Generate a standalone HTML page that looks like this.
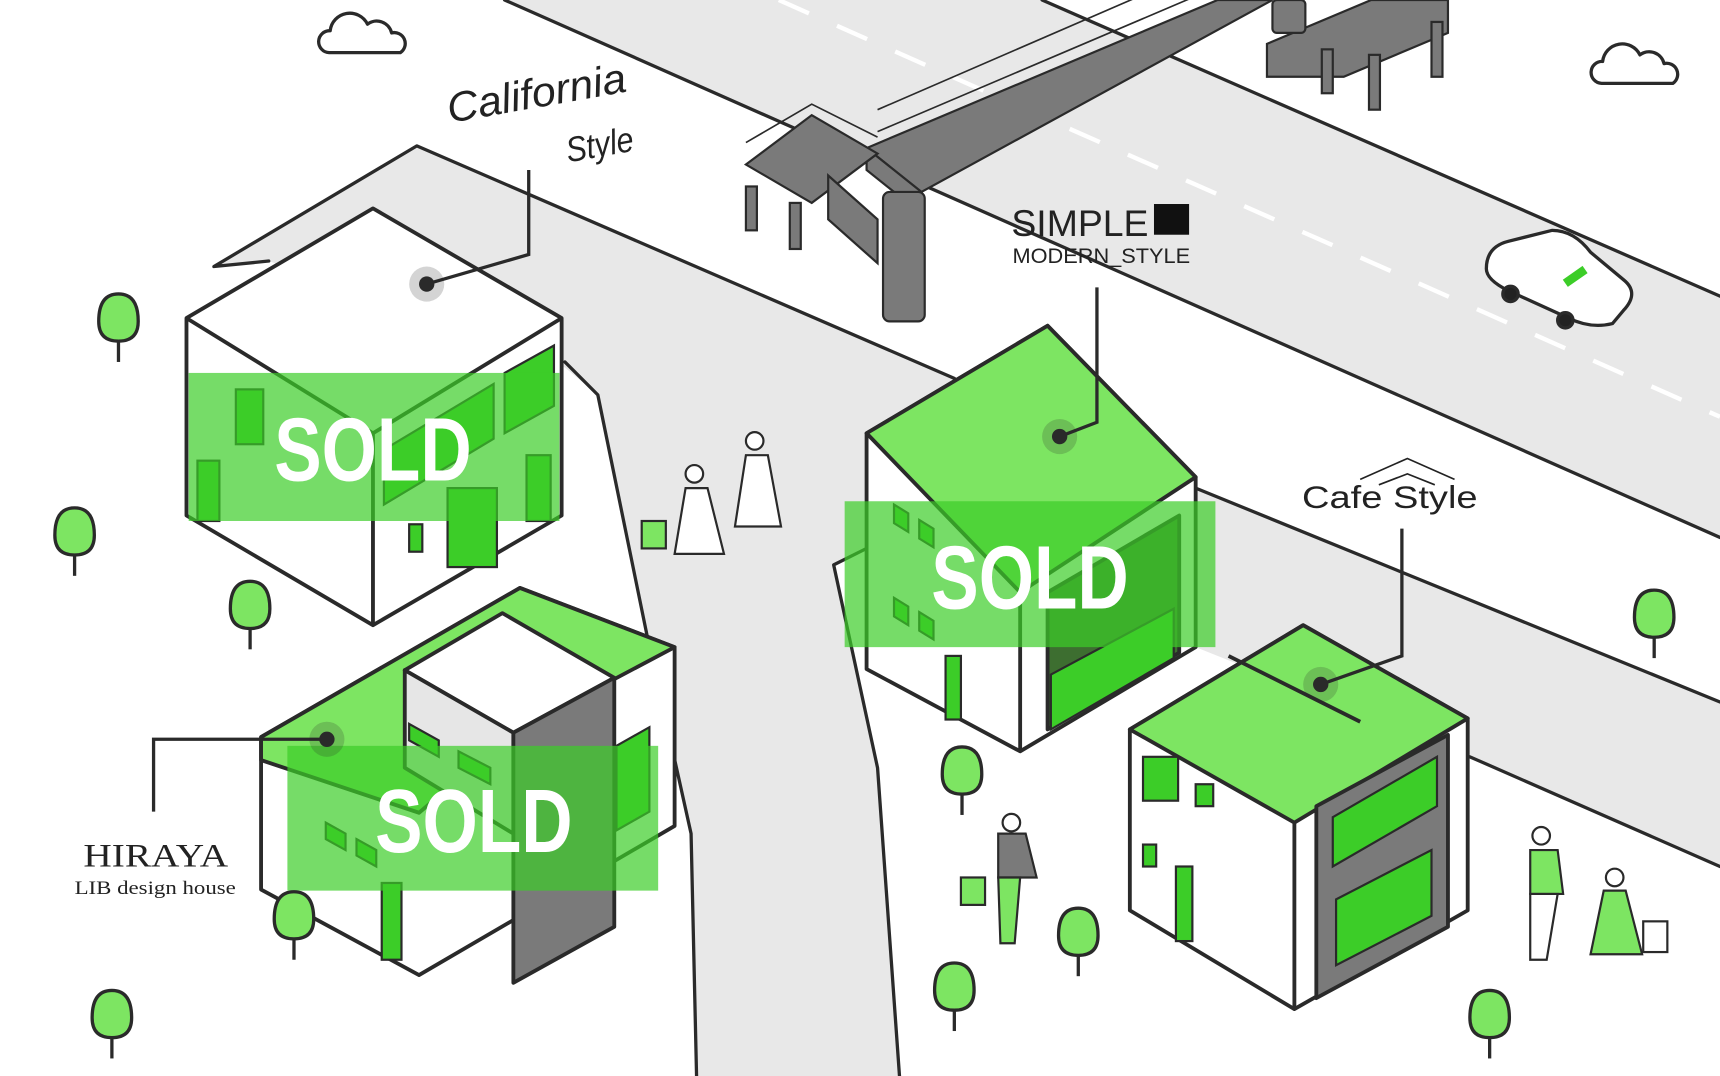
<!DOCTYPE html>
<html><head><meta charset="utf-8"><style>
html,body{margin:0;padding:0;background:#fff;}
svg{display:block;}
</style></head><body>
<svg width="1720" height="1076" viewBox="0 0 1568 981" preserveAspectRatio="none" xmlns="http://www.w3.org/2000/svg" font-family="Liberation Sans, sans-serif">
<defs>
<g id="t"><line x1="0" y1="15" x2="0" y2="40" /><path d="M0,-22 q18,0 18,25 q0,18 -18,18 q-18,0 -18,-18 q0,-25 18,-25z"/></g>
</defs>
<rect width="1568" height="981" fill="#fff"/>
<polygon points="460,0 950,0 1568,270 1568,490" fill="#e8e8e8"/>
<polygon points="195,243 380,133 870,345 790,500 760,515 800,700 820,981 635,981 630,760 590,580 545,360 515,335 245,238" fill="#e8e8e8"/>
<polygon points="1090,445 1568,640 1568,790 1340,690 1090,590" fill="#e8e8e8"/>
<g stroke="#2a2a2a" stroke-width="3" fill="none" stroke-linecap="round" stroke-linejoin="round">
<polyline points="245,238 195,243 380,133 870,345"/>
<line x1="1090" y1="445" x2="1568" y2="640"/>
<line x1="1340" y1="690" x2="1568" y2="790"/>
<line x1="460" y1="0" x2="1568" y2="490"/>
<line x1="950" y1="0" x2="1568" y2="270"/>
<polyline points="515,330 545,360 590,580 630,760 635,981"/>
<polyline points="790,500 760,515 800,700 820,981"/>
</g>
<line x1="710" y1="0" x2="1568" y2="380" stroke="#fff" stroke-width="4" stroke-dasharray="30,28"/>
<!-- bridge -->
<g fill="#7a7a7a" stroke="#2a2a2a" stroke-width="2">
<polygon points="790,135 1110,0 1160,0 840,175"/>
<polygon points="790,135 840,175 840,195 790,155"/>
<rect x="805" y="175" width="38" height="118" rx="6"/>
<polygon points="680,150 740,105 800,140 740,185"/>
<rect x="680" y="170" width="10" height="40"/><rect x="720" y="185" width="10" height="42"/>
<polygon points="755,160 800,200 800,240 755,200"/>
<polygon points="1155,40 1250,0 1320,0 1320,30 1225,70 1155,70"/>
<rect x="1205" y="45" width="10" height="40"/><rect x="1248" y="50" width="10" height="50"/><rect x="1305" y="20" width="10" height="50"/>
<rect x="1160" y="0" width="30" height="30" rx="4"/>
</g>
<g stroke="#2a2a2a" stroke-width="1.5" fill="none">
<polyline points="800,100 1100,-30"/><polyline points="800,120 1110,-12"/>
<polyline points="680,130 740,95 800,125"/>
</g>
<!-- clouds -->
<g fill="#fff" stroke="#2a2a2a" stroke-width="3" stroke-linejoin="round">
<path d="M300,48 h65 a10,10 0 0 0 -8,-18 a14,14 0 0 0 -22,-8 a18,18 0 0 0 -34,6 a10,10 0 0 0 -1,20z"/>
<path d="M1460,76 h65 a10,10 0 0 0 -8,-18 a14,14 0 0 0 -22,-8 a18,18 0 0 0 -34,6 a10,10 0 0 0 -1,20z"/>
</g>
<!-- car -->
<g stroke="#2a2a2a" stroke-width="3" fill="#fff">
<path d="M1355,245 q0,-20 20,-25 l40,-10 q20,0 35,20 l30,25 q15,12 0,28 l-10,12 q-20,5 -40,-5 l-55,-25 q-20,-10 -20,-20z"/>
<circle cx="1377" cy="268" r="7" fill="#222"/><circle cx="1427" cy="292" r="7" fill="#222"/>
<rect x="1425" y="248" width="22" height="8" fill="#3ccd28" stroke="none" transform="rotate(-35 1436 252)"/>
</g>
<!-- California house -->
<g stroke="#2a2a2a" stroke-width="3.5" stroke-linejoin="round" fill="#fff">
<polygon points="170,290 340,190 512,290 512,470 340,570 170,470"/>
<polyline points="170,290 340,395 512,290" fill="none"/>
<line x1="340" y1="395" x2="340" y2="570"/>
</g>
<g fill="#3ccd28" stroke="#2a2a2a" stroke-width="2">
<rect x="215" y="355" width="25" height="50"/><rect x="180" y="420" width="20" height="55"/>
<polygon points="350,410 450,350 450,400 350,460"/><polygon points="460,340 505,315 505,370 460,395"/>
<rect x="408" y="445" width="45" height="72"/><rect x="480" y="415" width="22" height="60"/><rect x="373" y="478" width="12" height="25"/>
</g>
<rect x="172" y="340" width="338" height="135" fill="#3ccd28" opacity="0.7"/>
<text x="340" y="438" font-size="82" font-weight="bold" fill="#fff" text-anchor="middle" textLength="180" lengthAdjust="spacingAndGlyphs">SOLD</text>
<!-- HIRAYA house -->
<g stroke="#2a2a2a" stroke-width="3.5" stroke-linejoin="round">
<polygon points="238,672 474,536 615,590 615,753 382,889 238,811" fill="#fff"/>
<polygon points="238,672 474,536 615,590 468,668 382,741 238,693" fill="#7de562"/>
<polygon points="369,611 458,559 560,618 468,668" fill="#fff"/>
<polygon points="369,611 468,668 468,760 369,700" fill="#e6e6e6"/>
<polygon points="468,668 560,618 560,845 468,896" fill="#7a7a7a"/>
</g>
<g fill="#3ccd28" stroke="#2a2a2a" stroke-width="2">
<rect x="348" y="805" width="18" height="70"/><polygon points="562,680 592,663 592,740 562,757"/>
<polygon points="373,660 400,675 400,690 373,675"/><polygon points="418,685 447,700 447,715 418,700"/>
<polygon points="297,750 315,760 315,775 297,765"/><polygon points="325,765 343,775 343,790 325,780"/>
</g>
<rect x="262" y="680" width="338" height="132" fill="#3ccd28" opacity="0.7"/>
<text x="432" y="777" font-size="82" font-weight="bold" fill="#fff" text-anchor="middle" textLength="180" lengthAdjust="spacingAndGlyphs">SOLD</text>
<!-- SIMPLE house -->
<g stroke="#2a2a2a" stroke-width="3.5" stroke-linejoin="round">
<polygon points="790,395 955,297 1090,435 1090,590 930,685 790,610" fill="#fff"/>
<polygon points="790,395 955,297 1090,435 930,540" fill="#7de562"/>
<line x1="930" y1="540" x2="930" y2="685"/>
<polygon points="955,540 1075,470 1075,595 955,665" fill="#3d6e30"/>
</g>
<g fill="#3ccd28" stroke="#2a2a2a" stroke-width="2">
<rect x="862" y="598" width="14" height="58"/>
<polygon points="958,615 1070,555 1070,600 958,665"/>
<polygon points="815,460 828,468 828,485 815,477"/><polygon points="838,474 851,482 851,499 838,491"/>
<polygon points="815,545 828,553 828,570 815,562"/><polygon points="838,558 851,566 851,583 838,575"/>
</g>
<rect x="770" y="457" width="338" height="133" fill="#3ccd28" opacity="0.7"/>
<text x="939" y="555" font-size="82" font-weight="bold" fill="#fff" text-anchor="middle" textLength="180" lengthAdjust="spacingAndGlyphs">SOLD</text>
<!-- Cafe house -->
<g stroke="#2a2a2a" stroke-width="3.5" stroke-linejoin="round">
<polygon points="1030,665 1188,570 1338,655 1338,830 1180,920 1030,830" fill="#fff"/>
<polygon points="1030,665 1188,570 1338,655 1180,750" fill="#7de562"/>
<line x1="1120" y1="598" x2="1240" y2="658"/>
<line x1="1180" y1="750" x2="1180" y2="920"/>
<polygon points="1200,735 1320,670 1320,845 1200,910" fill="#7a7a7a"/>
</g>
<g fill="#3ccd28" stroke="#2a2a2a" stroke-width="2">
<polygon points="1215,745 1310,690 1310,735 1215,790"/><polygon points="1218,820 1305,775 1305,835 1218,880"/>
<rect x="1042" y="690" width="32" height="40"/><rect x="1090" y="715" width="16" height="20"/><rect x="1042" y="770" width="12" height="20"/><rect x="1072" y="790" width="15" height="68"/>
</g>
<!-- trees -->
<g fill="#7de562" stroke="#2a2a2a" stroke-width="3">
<use href="#t" x="108" y="290"/><use href="#t" x="68" y="485"/><use href="#t" x="228" y="552"/><use href="#t" x="102" y="925"/><use href="#t" x="268" y="835"/><use href="#t" x="877" y="703"/><use href="#t" x="983" y="850"/><use href="#t" x="870" y="900"/><use href="#t" x="1508" y="560"/><use href="#t" x="1358" y="925"/>
</g>
<!-- people (simplified) -->
<g stroke="#2a2a2a" stroke-width="2">
<circle cx="633" cy="432" r="8" fill="#fff"/><polygon points="625,445 645,445 660,505 615,505" fill="#fff"/><rect x="585" y="475" width="22" height="25" fill="#7de562"/>
<circle cx="688" cy="402" r="8" fill="#fff"/><polygon points="680,415 700,415 712,480 670,480" fill="#fff"/>
<circle cx="922" cy="750" r="8" fill="#fff"/><polygon points="910,760 935,760 945,800 910,800" fill="#7a7a7a"/><polygon points="910,800 930,800 925,860 912,860" fill="#7de562"/><rect x="876" y="800" width="22" height="25" fill="#7de562"/>
<circle cx="1405" cy="762" r="8" fill="#fff"/><polygon points="1395,775 1420,775 1425,815 1395,815" fill="#7de562"/><polygon points="1395,815 1420,815 1410,875 1395,875" fill="#fff"/>
<circle cx="1472" cy="800" r="8" fill="#fff"/><polygon points="1462,812 1482,812 1497,870 1450,870" fill="#7de562"/><rect x="1498" y="840" width="22" height="28" fill="#fff"/>
</g>
<!-- leaders -->
<g stroke="#2a2a2a" stroke-width="3" fill="none">
<polyline points="389,259 482,232 482,155"/>
<polyline points="966,398 1000,385 1000,262"/>
<polyline points="1204,624 1278,598 1278,482"/>
<polyline points="298,674 140,674 140,740"/>
</g>
<g fill="#2a2a2a">
<circle cx="389" cy="259" r="16" opacity="0.2"/><circle cx="389" cy="259" r="7"/>
<circle cx="966" cy="398" r="16" opacity="0.2"/><circle cx="966" cy="398" r="7"/>
<circle cx="1204" cy="624" r="16" opacity="0.2"/><circle cx="1204" cy="624" r="7"/>
<circle cx="298" cy="674" r="16" opacity="0.2"/><circle cx="298" cy="674" r="7"/>
</g>
<!-- labels -->
<text x="410" y="112" font-style="italic" font-size="38" fill="#222" transform="rotate(-10 410 112)" textLength="165" lengthAdjust="spacingAndGlyphs">California</text>
<text x="518" y="148" font-style="italic" font-size="32" fill="#222" transform="rotate(-10 518 148)" textLength="62" lengthAdjust="spacingAndGlyphs">Style</text>
<text x="922" y="215" font-size="34" fill="#222" textLength="125" lengthAdjust="spacingAndGlyphs">SIMPLE</text>
<rect x="1052" y="186" width="32" height="28" fill="#111"/>
<text x="923" y="240" font-size="19" fill="#222" textLength="162" lengthAdjust="spacingAndGlyphs">MODERN_STYLE</text>
<polyline points="1240,437 1283,418 1326,437" stroke="#222" stroke-width="1.5" fill="none"/>
<polyline points="1257,442 1283,432 1308,442" stroke="#222" stroke-width="1.5" fill="none"/>
<text x="1187" y="463" font-size="29" fill="#222" textLength="160" lengthAdjust="spacingAndGlyphs">Cafe Style</text>
<text x="76" y="790" font-family="Liberation Serif, serif" font-size="30" fill="#222" textLength="132" lengthAdjust="spacingAndGlyphs">HIRAYA</text>
<text x="68" y="815" font-family="Liberation Serif, serif" font-size="17" fill="#222" textLength="147" lengthAdjust="spacingAndGlyphs">LIB design house</text>
</svg>
</body></html>
